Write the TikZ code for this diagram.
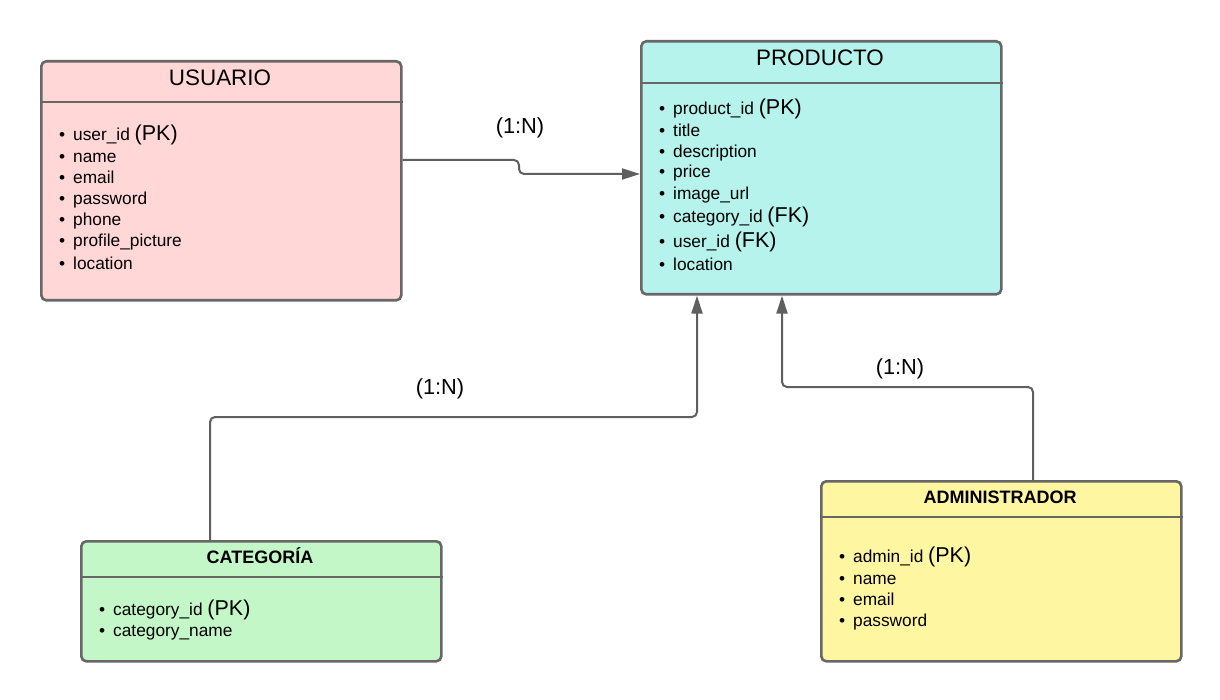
\documentclass[tikz,border=0pt]{standalone}
\usepackage{fontspec}
\setmainfont{Liberation Sans}
\usetikzlibrary{arrows.meta}

\definecolor{edgegray}{HTML}{676767}
\definecolor{linkgray}{HTML}{5F5F5F}
\definecolor{pinkfill}{HTML}{FFD7D7}
\definecolor{tealfill}{HTML}{B5F3EC}
\definecolor{greenfill}{HTML}{C3F7C8}
\definecolor{yellowfill}{HTML}{FFF6A2}

\tikzset{
  entity/.style={draw=edgegray, line width=2.6pt, rounded corners=5pt,
    anchor=north west, inner sep=0pt, minimum width=360pt},
  divider/.style={draw=edgegray, line width=2.6pt},
  bigtitle/.style={anchor=base, inner sep=0pt, font=\fontsize{22.4}{26}\selectfont},
  boldtitle/.style={anchor=base, inner sep=0pt, font=\fontsize{18}{21}\selectfont\bfseries},
  field/.style={anchor=base west, inner sep=0pt, font=\fontsize{17.3}{20}\selectfont},
  card/.style={inner sep=1pt, font=\fontsize{21.8}{25}\selectfont},
  link/.style={draw=linkgray, line width=2pt, rounded corners=5pt,
    -{Triangle[length=18pt,width=11pt]}}
}
% one attribute line: bullet, name and an optional larger key tag
\newcommand\attr[2]{\edef\keytag{#2}\makebox[14pt][l]{\textbullet}#1%
  \ifx\keytag\empty\else\ {\fontsize{21.5}{25}\selectfont(\keytag)}\fi}

\begin{document}
\begin{tikzpicture}[x=1pt,y=-1pt]
\useasboundingbox (0,0) rectangle (1220,700);

% ---------- entities ----------
\node[entity, fill=pinkfill, minimum height=239pt] (usr) at (40,60) {};
\draw[divider] (usr.west |- 0,102) -- (usr.east |- 0,102);
\node[bigtitle] (usrT) at (220,86) {USUARIO};
\foreach \n/\t/\k/\yy in {1/user\_id/PK/141, 2/name//163, 3/email//184,
    4/password//205, 5/phone//226, 6/profile\_picture//247, 7/location//270}
  \node[field] (usrF\n) at (59,\yy) {\attr{\t}{\k}};

\node[entity, fill=tealfill, minimum height=253pt] (prd) at (640,40) {};
\draw[divider] (prd.west |- 0,83) -- (prd.east |- 0,83);
\node[bigtitle] (prdT) at (820,66) {PRODUCTO};
\foreach \n/\t/\k/\yy in {1/product\_id/PK/115, 2/title//137, 3/description//158,
    4/price//178, 5/image\_url//200, 6/category\_id/FK/223, 7/user\_id/FK/248,
    8/location//271}
  \node[field] (prdF\n) at (659,\yy) {\attr{\t}{\k}};

\node[entity, fill=greenfill, minimum height=120pt] (cat) at (80,540) {};
\draw[divider] (cat.west |- 0,577) -- (cat.east |- 0,577);
\node[boldtitle] (catT) at (260,563) {CATEGORÍA};
\foreach \n/\t/\k/\yy in {1/category\_id/PK/615, 2/category\_name//636}
  \node[field] (catF\n) at (99,\yy) {\attr{\t}{\k}};

\node[entity, fill=yellowfill, minimum height=180pt] (adm) at (820,480) {};
\draw[divider] (adm.west |- 0,517) -- (adm.east |- 0,517);
\node[boldtitle] (admT) at (1000,503) {ADMINISTRADOR};
\foreach \n/\t/\k/\yy in {1/admin\_id/PK/562, 2/name//584, 3/email//605,
    4/password//626}
  \node[field] (admF\n) at (839,\yy) {\attr{\t}{\k}};

% ---------- relationships ----------
\draw[link] (usr.east |- 0,160) -- (519,160) -- (519,174) -- (prd.west |- 0,174);
\node[card] (relUP) at (520,128) {(1:N)};

\draw[link] (cat.north -| 210,0) -- (210,417) -- (697,417) -- (prd.south -| 697,0);
\node[card] (relCP) at (440,389) {(1:N)};

\draw[link] (adm.north -| 1033,0) -- (1033,387) -- (782,387) -- (prd.south -| 782,0);
\node[card] (relAP) at (900,369) {(1:N)};
\end{tikzpicture}
\end{document}
